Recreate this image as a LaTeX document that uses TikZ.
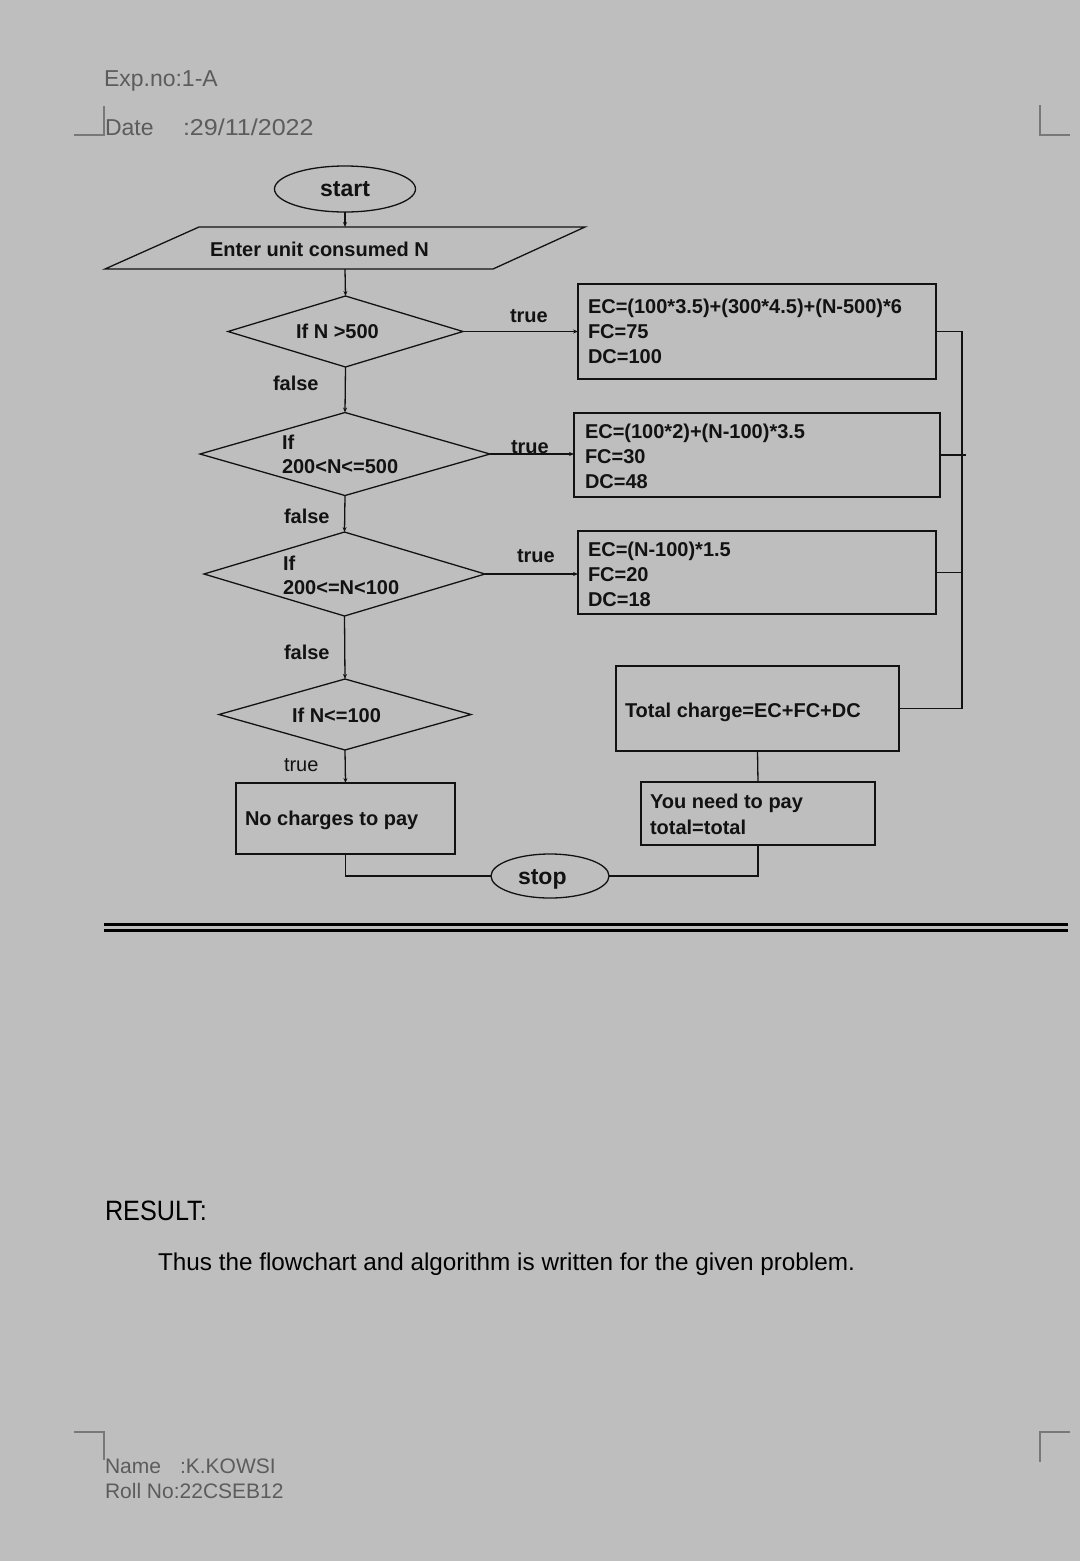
\documentclass[tikz,border=0pt]{standalone}
\usepackage{fontspec}
\usepackage{graphicx}
\setmainfont{Liberation Sans}
\usetikzlibrary{shapes.geometric,arrows.meta,calc}
\definecolor{bg}{RGB}{190,190,190}
\definecolor{ink}{RGB}{18,18,18}
\definecolor{hdr}{RGB}{92,92,92}
\definecolor{markc}{RGB}{120,120,120}
\begin{document}
\begin{tikzpicture}[x=1pt,y=-1pt,
  every node/.style={inner sep=0pt, outer sep=0pt},
  ln/.style={draw=ink, line width=1.3pt},
  arr/.style={draw=ink, line width=1.3pt, -{Stealth[length=5pt,width=4pt]}},
  fc/.style={font=\fontsize{20}{24}\selectfont\bfseries, text=ink, anchor=base west},
  fcr/.style={font=\fontsize{20}{24}\selectfont, text=ink, anchor=base west},
  big/.style={font=\fontsize{23}{27}\selectfont\bfseries, text=ink, anchor=base west},
  hd/.style={font=\fontsize{23}{27}\selectfont, text=hdr, anchor=base west},
  ft/.style={font=\fontsize{21}{25}\selectfont, text=hdr, anchor=base west},
  boxn/.style={ln, rectangle},
  dia/.style={ln, diamond},
  mk/.style={draw=markc, line width=1.5pt},
]
\fill[bg] (0,0) rectangle (1080,1561);
\useasboundingbox (0,0) rectangle (1080,1561);

% header / footer
\node[hd] (exp) at (104,86) {Exp.no:1-A};
\node[hd] (date) at (105,135) {Date};
\node[hd] (dateval) at (183,135) {\scalebox{1.09}[1]{:29/11/2022}};
\node[ft] (name) at (105,1473) {Name};
\node[ft] (nameval) at (180,1473) {:K.KOWSI};
\node[ft] (roll) at (105,1498) {Roll No:22CSEB12};
\draw[mk] (74,135) -- (104,135) -- (104,106);
\draw[mk] (1040,105) -- (1040,135) -- (1070,135);
\draw[mk] (74,1432) -- (104,1432) -- (104,1460);
\draw[mk] (1070,1432) -- (1040,1432) -- (1040,1462);

% shapes
\node[ln, ellipse, minimum width=141pt, minimum height=46pt, font=\fontsize{23}{27}\selectfont\bfseries, text=ink] (start) at (345,189) {start};
\node[rectangle, minimum width=290pt, minimum height=42pt] (inp) at (345,248) {};
\draw[ln] (199,227) -- (585,227) -- (493,269) -- (105,269) -- cycle;
\node[fc] (tinp) at (210,256) {Enter unit consumed N};

\node[dia, minimum width=235pt, minimum height=71pt] (d1) at (345.5,331.5) {};
\node[fc] (td1) at (296,338) {If N >500};
\node[dia, minimum width=290pt, minimum height=83pt] (d2) at (345,454) {};
\node[fc] (td2a) at (282,449) {If};
\node[fc] (td2b) at (282,473) {200<N<=500};
\node[dia, minimum width=281pt, minimum height=84pt] (d3) at (344.5,574) {};
\node[fc] (td3a) at (283,570) {If};
\node[fc] (td3b) at (283,594) {200<=N<100};
\node[dia, minimum width=252pt, minimum height=71pt] (d4) at (345,714.5) {};
\node[fc] (td4) at (292,722) {If N<=100};

\node[boxn, minimum width=358pt, minimum height=95pt] (b1) at (757,331.5) {};
\node[fc] (b1a) at (588,313) {EC=(100*3.5)+(300*4.5)+(N-500)*6};
\node[fc] (b1b) at (588,338) {FC=75};
\node[fc] (b1c) at (588,363) {DC=100};
\node[boxn, minimum width=366pt, minimum height=84pt] (b2) at (757,455) {};
\node[fc] (b2a) at (585,438) {EC=(100*2)+(N-100)*3.5};
\node[fc] (b2b) at (585,463) {FC=30};
\node[fc] (b2c) at (585,488) {DC=48};
\node[boxn, minimum width=358pt, minimum height=83pt] (b3) at (757,572.5) {};
\node[fc] (b3a) at (588,556) {EC=(N-100)*1.5};
\node[fc] (b3b) at (588,581) {FC=20};
\node[fc] (b3c) at (588,606) {DC=18};

\node[boxn, minimum width=219pt, minimum height=71pt] (nochg) at (345.5,818.5) {};
\node[fc] (tnochg) at (245,825) {No charges to pay};
\node[boxn, minimum width=283pt, minimum height=85pt] (tot) at (757.5,708.5) {};
\node[fc] (ttot) at (625,717) {Total charge=EC+FC+DC};
\node[boxn, minimum width=234pt, minimum height=63pt] (pay) at (758,813.5) {};
\node[fc] (tpay1) at (650,808) {You need to pay};
\node[fc] (tpay2) at (650,834) {total=total};
\node[ln, ellipse, minimum width=118pt, minimum height=44pt] (stop) at (550,876) {};
\node[big] (tstop) at (518,884) {stop};

% labels
\node[fc] (l1) at (510,322) {true};
\node[fc] (f1) at (273,390) {false};
\node[fc] (l2) at (511,453) {true};
\node[fc] (f2) at (284,523) {false};
\node[fc] (l3) at (517,562) {true};
\node[fc] (f3) at (284,659) {false};
\node[fcr] (l4) at (284,771) {true};

% connectors
\draw[arr] (start.south) -- (inp.north);
\draw[arr] (inp.south) -- (d1.north);
\draw[arr] (d1.east) -- (d1.east -| b1.west);
\draw[arr] (d1.south) -- (d2.north);
\draw[arr] (d2.east) -- (d2.east -| b2.west);
\draw[arr] (d2.south) -- (d3.north);
\draw[arr] (d3.east) -- (d3.east -| b3.west);
\draw[arr] (d3.south) -- (d4.north);
\draw[arr] (d4.south) -- (nochg.north);
\coordinate (bus) at (962,0);
\coordinate (bus2) at (966,0);
\draw[ln] (b1.east) -- (b1.east -| bus) -- (tot.east -| bus) -- (tot.east);
\draw[ln] (b2.east) -- (b2.east -| bus2);
\draw[ln] (b3.east) -- (b3.east -| bus);
\draw[ln] (tot.south) -- (pay.north);
\draw[ln] (pay.south) |- (stop.east);
\draw[ln] (nochg.south) |- (stop.west);

% double rule
\draw[line width=2.8pt, black] (104,924.6) -- (1068,924.6);
\draw[line width=2.8pt, black] (104,930.3) -- (1068,930.3);

% result
\node[anchor=base west, text=black, font=\fontsize{28}{32}\selectfont] (res) at (105,1220) {\scalebox{0.9}[1]{RESULT:}};
\node[anchor=base west, text=black, font=\fontsize{24.3}{28}\selectfont] (thus) at (158,1270) {Thus the flowchart and algorithm is written for the given problem.};
\end{tikzpicture}
\end{document}
